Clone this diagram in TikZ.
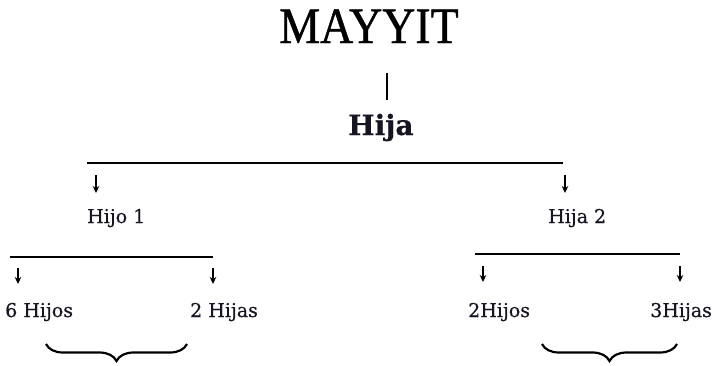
\documentclass[tikz,border=0pt]{standalone}
\usepackage{fontspec}
\setmainfont{DejaVu Serif}[FakeBold=0.5]
\newfontfamily\titlefont{Liberation Serif}[FakeBold=0.9]
\usetikzlibrary{arrows.meta,decorations.pathreplacing}
\definecolor{ink}{RGB}{22,22,34}
\tikzset{
  lbl/.style={inner sep=0pt, anchor=base west, text=ink, font=\fontsize{19}{19}\selectfont},
  rule/.style={line width=1.5pt, draw=black},
  arr/.style={line width=1.5pt, -{Stealth[length=7pt,width=6.5pt]}},
  brc/.style={line width=2.2pt, decorate, decoration={brace, mirror, amplitude=17pt, aspect=0.5}}
}
\begin{document}
\begin{tikzpicture}[x=1pt,y=-1pt]
\useasboundingbox (0,0) rectangle (717,365);
% title
\node[inner sep=0pt, anchor=base, xscale=0.9, font=\titlefont\fontsize{51}{51}\selectfont] (mayyit) at (369,43) {MAYYIT};
\coordinate (vtop) at (387,73);
\coordinate (vbot) at (387,100);
\draw[line width=1.2pt] (vtop) -- (vbot);
\node[lbl, font=\bfseries\fontsize{28}{28}\selectfont] (hija) at (348,135) {Hija};
% first level
\coordinate (l1a) at (87,163);
\coordinate (l1b) at (563,163);
\draw[rule] (l1a) -- (l1b);
\node[lbl] (hijo1) at (87,223) {Hijo 1};
\node[lbl] (hija2) at (548,223) {Hija 2};
\coordinate (a1s) at (96,175);
\coordinate (a1e) at (96,193);
\coordinate (a2s) at (565,175);
\coordinate (a2e) at (565,193);
\draw[arr] (a1s) -- (a1e);
\draw[arr] (a2s) -- (a2e);
% second level left
\coordinate (l2a) at (10,257);
\coordinate (l2b) at (213,257);
\draw[rule] (l2a) -- (l2b);
\coordinate (b1s) at (18,268);
\coordinate (b1e) at (18,284);
\coordinate (b2s) at (213,268);
\coordinate (b2e) at (213,284);
\draw[arr] (b1s) -- (b1e);
\draw[arr] (b2s) -- (b2e);
\node[lbl] (h6) at (5,317) {6 Hijos};
\node[lbl] (h2a) at (190,317) {2 Hijas};
% second level right
\coordinate (l3a) at (475,254);
\coordinate (l3b) at (680,254);
\draw[rule] (l3a) -- (l3b);
\coordinate (c1s) at (483,266);
\coordinate (c1e) at (483,282);
\coordinate (c2s) at (680,266);
\coordinate (c2e) at (680,282);
\draw[arr] (c1s) -- (c1e);
\draw[arr] (c2s) -- (c2e);
\node[lbl] (h2b) at (468,317) {2Hijos};
\node[lbl] (h3) at (650,317) {3Hijas};
% braces
\coordinate (br1a) at (46,344);
\coordinate (br1b) at (187,344);
\coordinate (br2a) at (542,344);
\coordinate (br2b) at (677,344);
\draw[brc] (br1a) -- (br1b);
\draw[brc] (br2a) -- (br2b);
\end{tikzpicture}
\end{document}
